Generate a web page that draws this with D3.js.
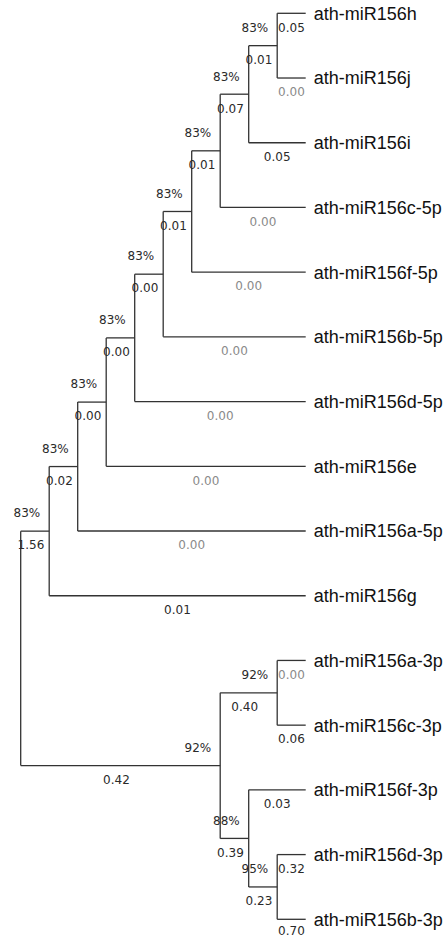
<!DOCTYPE html>
<html>
<head>
<meta charset="utf-8">
<script src="https://cdn.jsdelivr.net/npm/d3@7"></script>
<style>
  html, body { margin: 0; padding: 0; background: #fff; }
  svg { display: block; }
</style>
</head>
<body>
<svg id="chart" width="443" height="938"></svg>
<script>
// ---- Data ----
// Leaves (top to bottom) with their terminal branch lengths
const leafNames = [
  "ath-miR156h", "ath-miR156j", "ath-miR156i", "ath-miR156c-5p", "ath-miR156f-5p",
  "ath-miR156b-5p", "ath-miR156d-5p", "ath-miR156e", "ath-miR156a-5p", "ath-miR156g",
  "ath-miR156a-3p", "ath-miR156c-3p", "ath-miR156f-3p", "ath-miR156d-3p", "ath-miR156b-3p"
];
const leafLengths = [0.05, 0.00, 0.05, 0.00, 0.00, 0.00, 0.00, 0.00, 0.00, 0.01, 0.00, 0.06, 0.03, 0.32, 0.70];

// Internal nodes: id, children, branch length, bootstrap (%)
const nodeIds       = ["N1", "N2", "N3", "N4", "N5", "N6", "N7", "N8", "N9", "M1", "M4", "M2", "M3", "root"];
const nodeChildren  = [
  ["ath-miR156h", "ath-miR156j"],
  ["N1", "ath-miR156i"],
  ["N2", "ath-miR156c-5p"],
  ["N3", "ath-miR156f-5p"],
  ["N4", "ath-miR156b-5p"],
  ["N5", "ath-miR156d-5p"],
  ["N6", "ath-miR156e"],
  ["N7", "ath-miR156a-5p"],
  ["N8", "ath-miR156g"],
  ["ath-miR156a-3p", "ath-miR156c-3p"],
  ["ath-miR156d-3p", "ath-miR156b-3p"],
  ["ath-miR156f-3p", "M4"],
  ["M1", "M2"],
  ["N9", "M3"]
];
const nodeLengths   = [0.01, 0.07, 0.01, 0.01, 0.00, 0.00, 0.00, 0.02, 1.56, 0.40, 0.23, 0.39, 0.42, null];
const nodeBootstrap = [83, 83, 83, 83, 83, 83, 83, 83, 83, 92, 95, 88, 92, null];

// ---- Build hierarchy ----
const lookup = {};
leafNames.forEach((n, i) => { lookup[n] = { name: n, length: leafLengths[i], leaf: true }; });
nodeIds.forEach((id, i) => { lookup[id] = { name: id, length: nodeLengths[i], boot: nodeBootstrap[i] }; });
nodeIds.forEach((id, i) => { lookup[id].children = nodeChildren[i].map(c => lookup[c]); });

const root = d3.hierarchy(lookup["root"]);
const nLeaves = leafNames.length;
const span = 906;                       // first to last leaf distance
const step = span / (nLeaves - 1);
const cluster = d3.cluster().size([step * nLeaves, 285]).separation(() => 1);
cluster(root);

const W = 443, H = 938;
const offX = 20.7, offY = 13.3 - step / 2;
const X = d => offX + d.y;
const Y = d => offY + d.x;

const svg = d3.select("#chart");
const lineColor = "#333";
const g = svg.append("g");

// horizontal branches
g.selectAll("line.h").data(root.descendants().filter(d => d.parent))
  .join("line")
  .attr("x1", d => X(d.parent)).attr("x2", d => X(d))
  .attr("y1", d => Y(d)).attr("y2", d => Y(d))
  .attr("stroke", lineColor).attr("stroke-width", 1.3);

// vertical connectors
g.selectAll("line.v").data(root.descendants().filter(d => d.children))
  .join("line")
  .attr("x1", d => X(d)).attr("x2", d => X(d))
  .attr("y1", d => Y(d.children[0])).attr("y2", d => Y(d.children[d.children.length - 1]))
  .attr("stroke", lineColor).attr("stroke-width", 1.3);

// leaf labels
g.selectAll("text.leaf").data(root.leaves())
  .join("text")
  .attr("x", d => X(d) + 8).attr("y", d => Y(d))
  .attr("dy", "0.36em")
  .attr("font-family", "Liberation Sans, Arial, sans-serif")
  .attr("font-size", 18)
  .attr("fill", "#111")
  .text(d => d.data.name);

const numFont = "DejaVu Sans, Verdana, sans-serif";

// branch length labels
g.selectAll("text.len").data(root.descendants().filter(d => d.parent))
  .join("text")
  .attr("x", d => (X(d.parent) + X(d)) / 2 - (d.children ? 4 : 0))
  .attr("y", d => Math.min(Y(d) + 14, H - 7))
  .attr("dy", "0.36em")
  .attr("text-anchor", "middle")
  .attr("font-family", numFont)
  .attr("font-size", 12)
  .attr("fill", d => (!d.children && d.data.length === 0) ? "#8a8a8a" : "#2a2a2a")
  .text(d => d.data.length.toFixed(2));

// bootstrap labels
g.selectAll("text.boot").data(root.descendants().filter(d => d.parent && d.children && d.data.boot != null))
  .join("text")
  .attr("x", d => X(d) - 9)
  .attr("y", d => Y(d) - 18)
  .attr("dy", "0.36em")
  .attr("text-anchor", "end")
  .attr("font-family", numFont)
  .attr("font-size", 12)
  .attr("fill", "#2a2a2a")
  .text(d => d.data.boot + "%");
</script>
</body>
</html>
